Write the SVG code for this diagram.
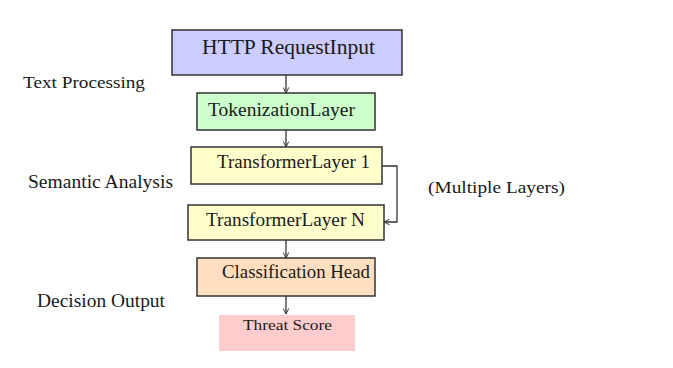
<svg xmlns="http://www.w3.org/2000/svg" width="673" height="368" viewBox="0 0 673 368">
<defs>
<style>
.box{stroke:#333;stroke-width:1.5}
.t{font-family:"Liberation Serif","Times New Roman",serif;fill:#1a1a1a}
.c{stroke:#333;stroke-width:1.3;fill:none}
</style>
<marker id="ah" viewBox="0 0 10 10" refX="9" refY="5" markerWidth="7" markerHeight="7" orient="auto" markerUnits="userSpaceOnUse">
<path d="M1,1 L9,5 L1,9" fill="none" stroke="#333" stroke-width="1.4"/>
</marker>
</defs>
<rect width="673" height="368" fill="#ffffff"/>
<g id="label-text-processing"><text class="t" x="23" y="88" font-size="17.5" textLength="122" lengthAdjust="spacingAndGlyphs">Text Processing</text></g>
<g id="label-semantic-analysis"><text class="t" x="28" y="188" font-size="18" textLength="145" lengthAdjust="spacingAndGlyphs">Semantic Analysis</text></g>
<g id="label-decision-output"><text class="t" x="37" y="307" font-size="18" textLength="128" lengthAdjust="spacingAndGlyphs">Decision Output</text></g>
<g id="label-multiple-layers"><text class="t" x="428" y="193" font-size="17.5" textLength="137" lengthAdjust="spacingAndGlyphs">(Multiple Layers)</text></g>
<g id="node-http">
<rect class="box" x="172" y="30" width="230" height="45" fill="#ccccff"/>
<text class="t" x="202" y="54" font-size="21" textLength="173" lengthAdjust="spacingAndGlyphs">HTTP RequestInput</text>
</g>
<g id="node-tokenization">
<rect class="box" x="197" y="93" width="178" height="37" fill="#ccffcc"/>
<text class="t" x="208" y="116" font-size="18" textLength="147" lengthAdjust="spacingAndGlyphs">TokenizationLayer</text>
</g>
<g id="node-transformer1">
<rect class="box" x="191" y="147" width="191" height="37" fill="#ffffcc"/>
<text class="t" x="217" y="168" font-size="18" textLength="153" lengthAdjust="spacingAndGlyphs">TransformerLayer 1</text>
</g>
<g id="node-transformerN">
<rect class="box" x="188" y="205" width="196" height="35" fill="#ffffcc"/>
<text class="t" x="206" y="226" font-size="18" textLength="159" lengthAdjust="spacingAndGlyphs">TransformerLayer N</text>
</g>
<g id="node-classification">
<rect class="box" x="197" y="258" width="178" height="38" fill="#ffdfbf"/>
<text class="t" x="222" y="278" font-size="18" textLength="148" lengthAdjust="spacingAndGlyphs">Classification Head</text>
</g>
<g id="node-threat">
<rect x="219" y="315" width="136" height="36" fill="#ffcccc"/>
<text class="t" x="243" y="330" font-size="14.5" textLength="89" lengthAdjust="spacingAndGlyphs">Threat Score</text>
</g>
<g id="connectors">
<line class="c" x1="286" y1="75" x2="286" y2="93" marker-end="url(#ah)"/>
<line class="c" x1="286" y1="130" x2="286" y2="147" marker-end="url(#ah)"/>
<polyline class="c" points="382,166 397,166 397,222 384,222" marker-end="url(#ah)"/>
<line class="c" x1="286" y1="240" x2="286" y2="258" marker-end="url(#ah)"/>
<line class="c" x1="286" y1="296" x2="286" y2="314" marker-end="url(#ah)"/>
</g>
</svg>
